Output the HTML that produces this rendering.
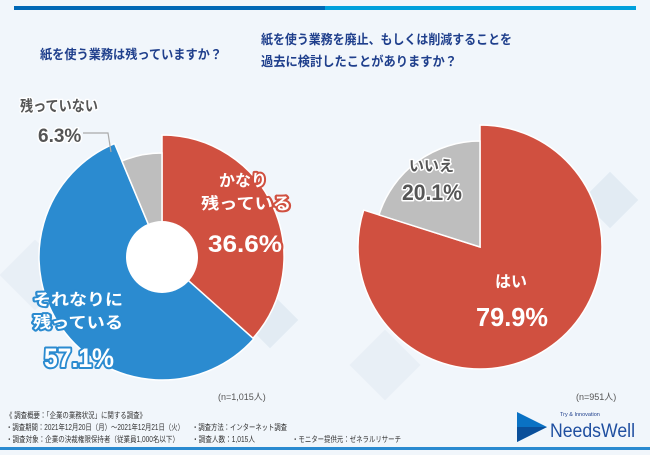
<!DOCTYPE html>
<html><head><meta charset="utf-8"><style>
body{margin:0;width:650px;height:450px;overflow:hidden;background:#f1f6fb;font-family:"Liberation Sans","Noto Sans CJK JP",sans-serif;}
svg text{font-family:"Liberation Sans","Noto Sans CJK JP",sans-serif;}
</style></head><body>
<svg width="650" height="450" viewBox="0 0 650 450">
<g opacity="0.35">
<rect x="250" y="300" width="40" height="40" transform="rotate(45 270 320)" fill="#c7d7e6"/>
<rect x="590" y="180" width="40" height="40" transform="rotate(45 610 200)" fill="#c7d7e6"/>
<rect x="10" y="250" width="50" height="50" transform="rotate(45 35 275)" fill="#d6e2ee"/>
<rect x="360" y="340" width="50" height="50" transform="rotate(45 385 365)" fill="#d6e2ee"/>
</g>
<rect x="14" y="6" width="311" height="4" fill="#0068b6"/>
<rect x="325" y="6" width="311" height="4" fill="#00a0dc"/>
<text x="40" y="59" font-size="13" font-weight="bold" fill="#1f3f8c" textLength="182" lengthAdjust="spacingAndGlyphs">紙を使う業務は残っていますか？</text>
<text x="261" y="44" font-size="13" font-weight="bold" fill="#1f3f8c" textLength="251" lengthAdjust="spacingAndGlyphs">紙を使う業務を廃止、もしくは削減することを</text>
<text x="261" y="66" font-size="13" font-weight="bold" fill="#1f3f8c" textLength="196" lengthAdjust="spacingAndGlyphs">過去に検討したことがありますか？</text>
<g id="pie1"></g>
<g id="pie2"></g>
<circle cx="162" cy="257" r="36" fill="#fff"/>
<polyline points="83,133 108,133 111,152" fill="none" stroke="#aaa" stroke-width="1.2"/>
<g font-weight="bold" paint-order="stroke" stroke-linejoin="round">
<text x="20" y="111" font-size="15" fill="#555" stroke="#fff" stroke-width="3" textLength="78" lengthAdjust="spacingAndGlyphs">残っていない</text>
<text x="38" y="142" font-size="19" fill="#555" stroke="#fff" stroke-width="3">6.3%</text>
<text x="219" y="186" font-size="16" fill="#fff" stroke="#d05040" stroke-width="4">かなり</text>
<text x="201" y="209" font-size="16" fill="#fff" stroke="#d05040" stroke-width="4" textLength="90" lengthAdjust="spacingAndGlyphs">残っている</text>
<text x="208" y="252" font-size="24" fill="#fff" stroke="#d05040" stroke-width="4" textLength="74" lengthAdjust="spacingAndGlyphs">36.6%</text>
<text x="33" y="305" font-size="16" fill="#fff" stroke="#2b8bd0" stroke-width="4" textLength="90" lengthAdjust="spacingAndGlyphs">それなりに</text>
<text x="33" y="328" font-size="16" fill="#fff" stroke="#2b8bd0" stroke-width="4" textLength="90" lengthAdjust="spacingAndGlyphs">残っている</text>
<text x="44" y="367" font-size="27" fill="#fff" stroke="#2b8bd0" stroke-width="4" textLength="70" lengthAdjust="spacingAndGlyphs">57.1%</text>
<text x="409" y="171" font-size="15" fill="#555" stroke="#fff" stroke-width="3">いいえ</text>
<text x="402" y="200" font-size="22" fill="#555" stroke="#fff" stroke-width="3" textLength="60" lengthAdjust="spacingAndGlyphs">20.1%</text>
<text x="495" y="287" font-size="16" fill="#fff" stroke="#d05040" stroke-width="4">はい</text>
<text x="476" y="326" font-size="26" fill="#fff" stroke="#d05040" stroke-width="4" textLength="72" lengthAdjust="spacingAndGlyphs">79.9%</text>
</g>
<text x="218" y="400" font-size="9" fill="#555">(n=1,015人)</text>
<text x="576" y="400" font-size="9" fill="#555">(n=951人)</text>
<g font-size="8" fill="#333" lengthAdjust="spacingAndGlyphs">
<text x="6" y="418" textLength="140" lengthAdjust="spacingAndGlyphs">《 調査概要：「企業の業務状況」に関する調査》</text>
<text x="6" y="430" textLength="178" lengthAdjust="spacingAndGlyphs">・調査期間：2021年12月20日（月）〜2021年12月21日（火）</text>
<text x="6" y="442" textLength="173" lengthAdjust="spacingAndGlyphs">・調査対象：企業の決裁権限保持者（従業員1,000名以下）</text>
<text x="192" y="430" textLength="95" lengthAdjust="spacingAndGlyphs">・調査方法：インターネット調査</text>
<text x="192" y="442" textLength="63" lengthAdjust="spacingAndGlyphs">・調査人数：1,015人</text>
<text x="292" y="442" textLength="109" lengthAdjust="spacingAndGlyphs">・モニター提供元：ゼネラルリサーチ</text>
</g>
<g>
<polygon points="517,412 547,427 517,442" fill="#0a72c4"/>
<polygon points="517,427 547,427 517,442" fill="#0a4f9a"/>
<text x="560" y="416" font-size="5.5" fill="#1f3f8c" font-family="Liberation Serif,serif">Try &amp; Innovation</text>
<text x="550" y="437" font-size="19" fill="#1f4fa0" font-family="Liberation Serif,serif" textLength="85" lengthAdjust="spacingAndGlyphs">NeedsWell</text>
</g>
<rect x="0" y="447" width="650" height="3" fill="#2a8ad0"/>
</svg>
<script>
const pie1Labels=["かなり残っている","それなりに残っている","残っていない"];
const pie1Values=[36.6,57.1,6.3];
const pie2Labels=["はい","いいえ"];
const pie2Values=[79.9,20.1];
const NS="http://www.w3.org/2000/svg";
function drawPie(id,vals,colors,radii,cx,cy){
  const g=document.getElementById(id);
  const tot=vals.reduce((a,b)=>a+b,0);
  let a0=-Math.PI/2;
  vals.forEach((v,i)=>{
    const a1=a0+v/tot*2*Math.PI, r=radii[i];
    const large=(a1-a0)>Math.PI?1:0;
    const d=`M${cx},${cy}L${cx+r*Math.cos(a0)},${cy+r*Math.sin(a0)}A${r},${r} 0 ${large} 1 ${cx+r*Math.cos(a1)},${cy+r*Math.sin(a1)}Z`;
    const p=document.createElementNS(NS,"path");
    p.setAttribute("d",d);p.setAttribute("fill",colors[i]);
    p.setAttribute("stroke","#fff");p.setAttribute("stroke-width","1.5");
    
    
    g.appendChild(p);a0=a1;
  });
}
drawPie("pie1",pie1Values,["#d05040","#2b8bd0","#bebebe"],[122,123,104],162,257);
drawPie("pie2",pie2Values,["#d05040","#bebebe"],[122,106],480,247);
</script>
</body></html>
